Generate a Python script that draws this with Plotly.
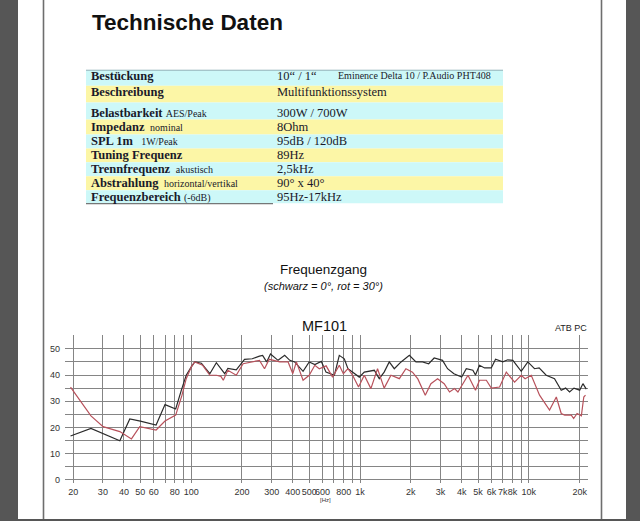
import math
import plotly.graph_objects as go

W, H = 640, 521


def px(x):
    return x / W


def py(y):
    return 1 - y / H


# ---------------- data ----------------
freq_0 = [19.3, 25.5, 37.8, 43.3, 50, 62, 70, 81, 87.5, 93.5, 100, 105, 115, 129, 141, 158, 165,
          173, 185, 207, 230, 254, 265, 280, 295, 327, 358, 384, 410, 460, 500, 540, 590, 629,
          705, 754, 807, 848, 904, 990, 1060, 1140, 1215, 1300, 1390, 1490, 1596, 1750, 1960,
          2144, 2345, 2550, 2750, 3080, 3300, 3600, 4000, 4260, 4660, 4830, 5100, 5470, 5990,
          6350, 7010, 7500, 8040, 9010, 9860, 10800, 11500, 12670, 14190, 15550, 16500, 17420,
          18500, 20000, 20900, 21880]
spl_0 = [16.7, 19.6, 14.9, 23.2, 22.4, 20.9, 28.7, 27.0, 34.2, 39.9, 43.0, 45.0, 44.5, 40.5, 44.7,
         40.5, 42.5, 42.4, 42.0, 46.0, 46.2, 47.2, 47.5, 45.0, 48.0, 45.6, 47.5, 45.6, 45.0, 41.4,
         45.0, 44.0, 45.2, 41.1, 39.9, 47.5, 46.2, 42.4, 41.1, 39.2, 41.1, 41.4, 41.8, 38.6, 41.1,
         45.0, 42.4, 45.0, 47.5, 45.0, 45.0, 44.3, 46.5, 45.6, 42.4, 40.5, 39.2, 42.4, 41.8, 40.0,
         43.7, 42.7, 42.7, 46.0, 45.0, 45.8, 45.6, 41.4, 45.0, 42.4, 42.7, 39.9, 38.6, 34.2, 35.0,
         33.5, 35.0, 34.2, 36.7, 34.6]

freq_30 = [19.3, 25.5, 30.1, 37.8, 44.3, 49.6, 62, 70, 81, 88, 93.5, 100, 105, 117, 129, 141, 150,
           155, 165, 185, 203, 230, 254, 272, 290, 335, 375, 400, 420, 460, 500, 540, 574, 630,
           688, 754, 797, 848, 904, 980, 1060, 1160, 1270, 1390, 1525, 1710, 1870, 2045, 2200,
           2435, 2630, 2880, 3150, 3390, 3630, 3800, 4000, 4360, 4830, 5100, 5600, 5990, 6710,
           7350, 8230, 9010, 9500, 10330, 11570, 13260, 14540, 15550, 16300, 17840, 18420,
           19300, 20460, 21150, 21650]
spl_30 = [35.4, 24.4, 20.3, 18.4, 15.6, 20.3, 19.0, 22.4, 24.7, 32.0, 38.6, 43.0, 45.0, 43.7, 39.9,
          39.9, 39.5, 38.0, 41.8, 39.9, 44.3, 45.0, 45.6, 42.4, 46.0, 45.0, 45.0, 40.5, 45.0, 38.0,
          39.9, 43.7, 42.4, 43.5, 39.2, 43.7, 40.5, 42.4, 39.9, 35.4, 39.9, 34.8, 42.4, 35.0, 39.9,
          38.6, 42.4, 41.1, 38.5, 32.3, 36.7, 38.6, 36.7, 33.5, 34.8, 33.5, 36.0, 39.9, 34.2, 38.0,
          38.0, 35.0, 35.4, 41.1, 37.3, 39.9, 38.6, 39.9, 32.3, 26.6, 31.6, 25.3, 24.7, 24.7, 23.4,
          25.3, 24.4, 31.6, 32.3]

x_tick_vals = [20, 30, 40, 50, 60, 70, 80, 90, 100, 200, 300, 400, 500, 600, 700, 800, 900,
               1000, 2000, 3000, 4000, 5000, 6000, 7000, 8000, 9000, 10000, 20000]
x_tick_text = ["20", "30", "40", "50", "60", "", "80", "", "100", "200", "300", "400", "500",
               "600", "", "800", "", "1k", "2k", "3k", "4k", "5k", "6k", "7k", "8k", "", "10k", "20k"]
y_tick_vals = [0, 5, 10, 15, 20, 25, 30, 35, 40, 45, 50, 55]
y_tick_text = ["0", "", "10", "", "20", "", "30", "", "40", "", "50", ""]

row_labels = ["Bestückung", "Beschreibung", "Belastbarkeit", "Impedanz", "SPL 1m",
              "Tuning Frequenz", "Trennfrequenz", "Abstrahlung", "Frequenzbereich"]
row_notes = ["", "", "AES/Peak", "\u00a0nominal", "\u00a0\u00a01W/Peak", "", "\u00a0akustisch",
             "\u00a0horizontal/vertikal", "(-6dB)"]
row_values = ["10“ / 1“", "Multifunktionssystem", "300W / 700W", "8Ohm", "95dB / 120dB",
              "89Hz", "2,5kHz", "90° x 40°", "95Hz-17kHz"]
row_extra = "Eminence Delta 10 / P.Audio PHT408"

# ---------------- layout geometry ----------------
row_bounds = [70.5, 86, 103, 120, 135, 149, 163, 177, 191, 204]
row_text_y = [76, 92, 113, 127.5, 141.7, 156, 170, 184, 197.5]
row_colors = ["#cdf8f8", "#fcf6a6"]

SANS = "Liberation Sans, Arial, sans-serif"
SERIF = "Liberation Serif, Times New Roman, serif"

fig = go.Figure()
fig.add_trace(go.Scatter(x=freq_0, y=spl_0, mode="lines", line=dict(color="#2b2b2b", width=1.2),
                         name="0°", showlegend=False, hoverinfo="skip"))
fig.add_trace(go.Scatter(x=freq_30, y=spl_30, mode="lines", line=dict(color="#b8525c", width=1.2),
                         name="30°", showlegend=False, hoverinfo="skip"))

shapes = []
# page frame
shapes.append(dict(type="rect", xref="paper", yref="paper", x0=px(18), x1=px(626), y0=0, y1=1,
                   fillcolor="white", line=dict(width=0), layer="below"))
for xl in (43.5, 601.5):
    shapes.append(dict(type="line", xref="paper", yref="paper", x0=px(xl), x1=px(xl), y0=0, y1=1,
                       line=dict(color="#6e6e6e", width=1.6), layer="below"))
# table rows
for i in range(len(row_labels)):
    shapes.append(dict(type="rect", xref="paper", yref="paper", x0=px(86), x1=px(503),
                       y0=py(row_bounds[i + 1]), y1=py(row_bounds[i]),
                       fillcolor=row_colors[i % 2], line=dict(width=0), layer="below"))
shapes.append(dict(type="line", xref="paper", yref="paper", x0=px(86), x1=px(503), y0=py(70.5),
                   y1=py(70.5), line=dict(color="#8fb0b8", width=1), layer="below"))
shapes.append(dict(type="line", xref="paper", yref="paper", x0=px(86), x1=px(273), y0=py(204.5),
                   y1=py(204.5), line=dict(color="#555555", width=1), layer="below"))

annotations = []
annotations.append(dict(text="<b>Technische Daten</b>", x=px(90), y=py(23), xref="paper",
                        yref="paper", xanchor="left", yanchor="middle", showarrow=False,
                        font=dict(family=SANS, size=22.5, color="#111111")))
for i, lab in enumerate(row_labels):
    t = "<b>" + lab + "</b>"
    if row_notes[i]:
        t += "\u00a0<span style='font-size:10px'>" + row_notes[i] + "</span>"
    annotations.append(dict(text=t, x=px(89), y=py(row_text_y[i]), xref="paper", yref="paper",
                            xanchor="left", yanchor="middle", showarrow=False,
                            font=dict(family=SERIF, size=12.5, color="#1a1a2a")))
    annotations.append(dict(text=row_values[i], x=px(275), y=py(row_text_y[i]), xref="paper",
                            yref="paper", xanchor="left", yanchor="middle", showarrow=False,
                            font=dict(family=SERIF, size=12.5, color="#1a1a2a")))
annotations.append(dict(text=row_extra, x=px(336), y=py(row_text_y[0]), xref="paper", yref="paper",
                        xanchor="left", yanchor="middle", showarrow=False,
                        font=dict(family=SERIF, size=10, color="#1a1a2a")))

annotations.append(dict(text="Frequenzgang", x=px(323), y=py(271), xref="paper", yref="paper",
                        xanchor="center", yanchor="middle", showarrow=False,
                        font=dict(family=SANS, size=13.5, color="#111111")))
annotations.append(dict(text="<i>(schwarz = 0°, rot = 30°)</i>", x=px(323), y=py(287),
                        xref="paper", yref="paper", xanchor="center", yanchor="middle",
                        showarrow=False, font=dict(family=SANS, size=11, color="#111111")))
annotations.append(dict(text="MF101", x=px(324.5), y=py(327), xref="paper", yref="paper",
                        xanchor="center", yanchor="middle", showarrow=False,
                        font=dict(family=SANS, size=14.5, color="#111111")))
annotations.append(dict(text="ATB PC", x=px(589), y=py(329), xref="paper", yref="paper",
                        xanchor="right", yanchor="middle", showarrow=False,
                        font=dict(family=SANS, size=9, color="#222222")))
annotations.append(dict(text="[Hz]", x=px(325), y=py(502), xref="paper", yref="paper",
                        xanchor="center", yanchor="middle", showarrow=False,
                        font=dict(family=SANS, size=6, color="#333333")))

fig.update_layout(
    width=W, height=H, autosize=False,
    margin=dict(l=0, r=0, t=0, b=0, pad=0),
    paper_bgcolor="#565656",
    plot_bgcolor="rgba(0,0,0,0)",
    shapes=shapes,
    annotations=annotations,
    xaxis=dict(type="log", range=[math.log10(17.9), math.log10(22400)], domain=[px(65), px(588)],
               tickmode="array", tickvals=x_tick_vals, ticktext=x_tick_text, showgrid=True,
               gridcolor="#858585", gridwidth=1, zeroline=False, showline=False, ticks="",
               ticklabelstandoff=2,
               tickfont=dict(family=SANS, size=9, color="#333333"), tickangle=0),
    yaxis=dict(range=[-1.3, 55.2], domain=[py(485), py(336.5)], tickmode="array",
               tickvals=y_tick_vals, ticktext=y_tick_text, showgrid=True, gridcolor="#858585",
               gridwidth=1, zeroline=False, showline=False, ticks="", ticklabelstandoff=4,
               tickfont=dict(family=SANS, size=9, color="#333333")),
    showlegend=False,
)

fig.write_html("out.html")
